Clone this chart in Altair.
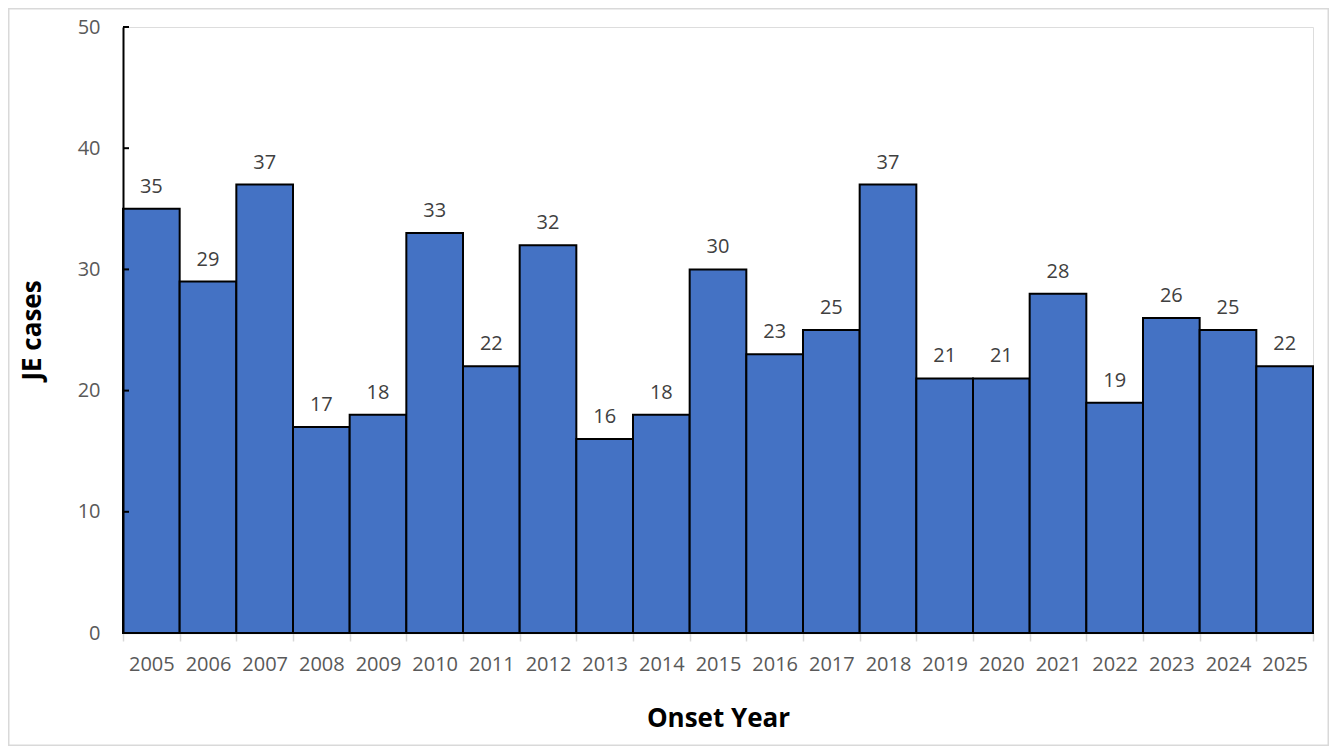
import altair as alt
import pandas as pd

years = [str(y) for y in range(2005, 2026)]
cases = [35, 29, 37, 17, 18, 33, 22, 32, 16, 18, 30, 23, 25, 37, 21, 21, 28, 19, 26, 25, 22]
y_ticks = [0, 10, 20, 30, 40, 50]

df = pd.DataFrame({"year": years, "cases": cases})
ticks_df = pd.DataFrame({"v": y_ticks[1:]})
one = pd.DataFrame({"a": [0]})

W, H = 1190, 606
PL, PT, PR, PB = 115, 19, 16, 113
FONT = "Open Sans"

xenc = alt.X("year:O", title="Onset Year",
             scale=alt.Scale(paddingInner=0, paddingOuter=0),
             axis=alt.Axis(labelAngle=0, tickBand="extent", domainColor="#d9d9d9",
                           domainWidth=1.5, tickColor="#d9d9d9", tickWidth=1.5,
                           tickSize=8, labelPadding=13, labelFontSize=20,
                           labelColor="#595959", labelFont=FONT,
                           titleFont=FONT, titleFontSize=26, titleFontWeight="bold",
                           titleColor="#000000", titlePadding=31))
yenc = alt.Y("cases:Q", title="JE cases",
             scale=alt.Scale(domain=[0, 50]),
             axis=alt.Axis(values=y_ticks, grid=False, ticks=False, domainColor="#000000",
                           domainWidth=2, labelPadding=23, labelFontSize=20,
                           labelColor="#595959", labelFont=FONT,
                           titleFont=FONT, titleFontSize=26, titleFontWeight="bold",
                           titleColor="#000000", titlePadding=32, zindex=1))

bars = alt.Chart(df).mark_bar(color="#4472C4", stroke="#000000", strokeWidth=2).encode(
    x=xenc, y=yenc)

labels = alt.Chart(df).mark_text(dy=-22, fontSize=20, color="#404040", font=FONT,
                                 baseline="middle").encode(
    x=alt.X("year:O"), y=alt.Y("cases:Q"), text=alt.Text("cases:Q"))

inner_ticks = alt.Chart(ticks_df).mark_rule(color="#000000", strokeWidth=2).encode(
    y=alt.Y("v:Q"), x=alt.value(0), x2=alt.value(6))

border = alt.Chart(one).mark_rect(fill=None, stroke="#d9d9d9", strokeWidth=1.5, clip=False).encode(
    x=alt.value(-PL + 0.75), x2=alt.value(W + PR - 0.75),
    y=alt.value(-PT + 0.75), y2=alt.value(H + PB - 0.75))

chart = alt.layer(bars, labels, inner_ticks, border).properties(
    width=W, height=H,
    padding={"left": PL, "top": PT, "right": PR, "bottom": PB},
    autosize=alt.AutoSizeParams(type="none"),
).configure_view(stroke=None).configure(background="white")

chart.save("out.html", embed_options={"renderer": "svg", "actions": False})
